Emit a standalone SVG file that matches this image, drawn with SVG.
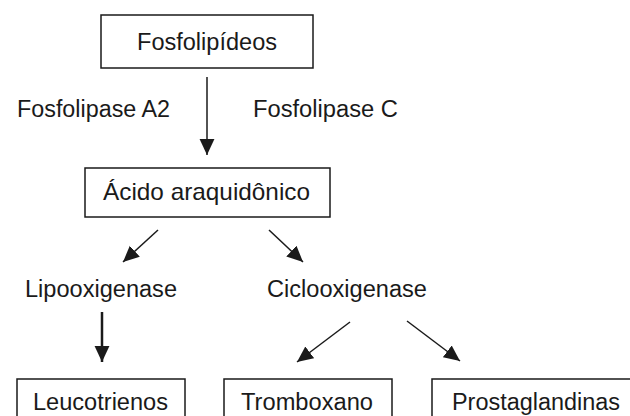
<svg xmlns="http://www.w3.org/2000/svg" width="630" height="416" viewBox="0 0 630 416">
  <style>
    .box { fill: #ffffff; stroke: #1a1a1a; stroke-width: 1.5; }
    .t { font-family: "Liberation Sans", Arial, Helvetica, sans-serif; font-size: 23px; fill: #1a1a1a; }
    .big { font-size: 24px; }
    .c { stroke: #1a1a1a; stroke-width: 1.5; fill: none; marker-end: url(#ah); }
    .thick { stroke-width: 2.5; }
  </style>
  <defs>
    <marker id="ah" markerUnits="userSpaceOnUse" markerWidth="16" markerHeight="16" viewBox="0 0 14 14" refX="14" refY="7" orient="auto">
      <path d="M0,0.5 L14,7 L0,13.5 Z" fill="#1a1a1a"/>
    </marker>
  </defs>
  <rect width="630" height="416" fill="#ffffff"/>

  <g id="fosfolipideos">
    <rect class="box" x="101" y="15" width="212" height="53"/>
    <text class="t" x="137" y="50" textLength="140" lengthAdjust="spacingAndGlyphs">Fosfolipídeos</text>
  </g>
  <g id="label-fosfolipase-a2">
    <text class="t" x="17" y="117" textLength="153" lengthAdjust="spacingAndGlyphs">Fosfolipase A2</text>
  </g>
  <g id="label-fosfolipase-c">
    <text class="t" x="253" y="117" textLength="145" lengthAdjust="spacingAndGlyphs">Fosfolipase C</text>
  </g>
  <g id="acido">
    <rect class="box" x="85" y="168" width="245" height="49"/>
    <text class="t big" x="103" y="200" textLength="207" lengthAdjust="spacingAndGlyphs">Ácido araquidônico</text>
  </g>
  <g id="lipooxigenase">
    <text class="t" x="25" y="297" textLength="152" lengthAdjust="spacingAndGlyphs">Lipooxigenase</text>
  </g>
  <g id="ciclooxigenase">
    <text class="t" x="267" y="297" textLength="160" lengthAdjust="spacingAndGlyphs">Ciclooxigenase</text>
  </g>
  <g id="leucotrienos">
    <rect class="box" x="17" y="379" width="168" height="50"/>
    <text class="t" x="33" y="410" textLength="135" lengthAdjust="spacingAndGlyphs">Leucotrienos</text>
  </g>
  <g id="tromboxano">
    <rect class="box" x="224" y="379" width="168" height="50"/>
    <text class="t" x="241" y="410" textLength="132" lengthAdjust="spacingAndGlyphs">Tromboxano</text>
  </g>
  <g id="prostaglandinas">
    <rect class="box" x="432" y="379" width="210" height="50"/>
    <text class="t" x="452" y="410" textLength="168" lengthAdjust="spacingAndGlyphs">Prostaglandinas</text>
  </g>

  <g id="connectors">
    <line class="c" x1="207" y1="77" x2="207" y2="155"/>
    <line class="c" x1="158" y1="230" x2="123" y2="262"/>
    <line class="c" x1="269" y1="230" x2="303" y2="262"/>
    <line class="c thick" x1="102" y1="312" x2="102" y2="362"/>
    <line class="c" x1="350" y1="322" x2="297" y2="362"/>
    <line class="c" x1="407" y1="321" x2="460" y2="361"/>
  </g>
</svg>
